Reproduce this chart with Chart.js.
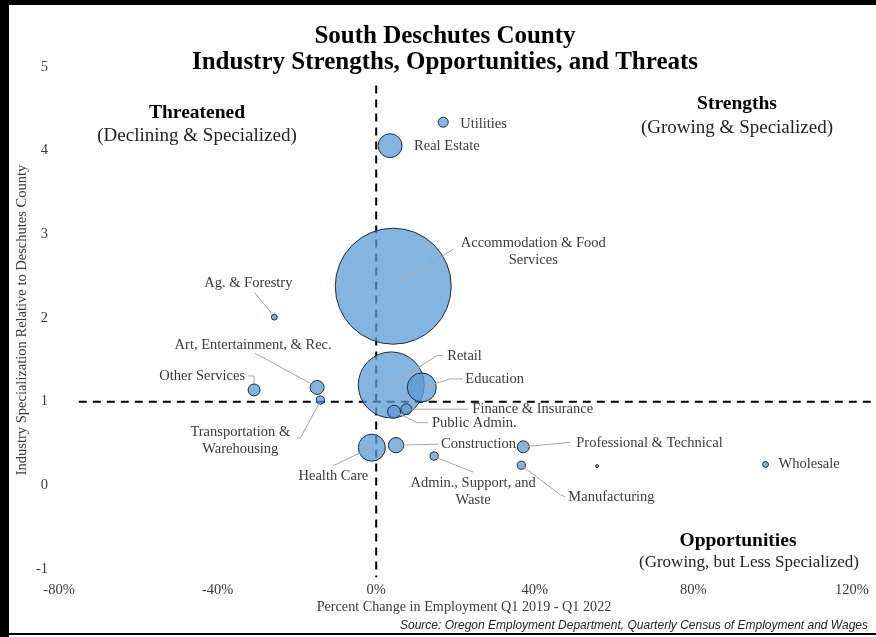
<!DOCTYPE html>
<html>
<head>
<meta charset="utf-8">
<script src="https://cdn.jsdelivr.net/npm/chart.js@4"></script>
<style>
  html, body { margin: 0; padding: 0; background: #fff; }
  canvas { display: block; }
</style>
</head>
<body>
<canvas id="myChart" width="876" height="637"></canvas>
<script>
// industries, drawn biggest first so the small ones sit on top
var industries = ['Accommodation & Food Services', 'Retail', 'Education', 'Health Care', 'Real Estate',
  'Construction', 'Art, Entertainment, & Rec.', 'Public Admin.', 'Other Services', 'Professional & Technical',
  'Finance & Insurance', 'Utilities', 'Transportation & Warehousing', 'Admin., Support, and Waste',
  'Manufacturing', 'Ag. & Forestry', 'Wholesale', ''];
// percent change in employment Q1 2019 - Q1 2022
var pctChange = [4.3, 3.8, 11.5, -1.1, 3.5, 5.0, -14.9, 4.5, -30.8, 37.1, 7.6, 16.9, -14.1, 14.6, 36.6, -25.7, 98.2, 55.7];
// specialization relative to Deschutes County
var specialization = [2.38, 1.20, 1.17, 0.45, 4.06, 0.48, 1.17, 0.88, 1.14, 0.46, 0.91, 4.34, 1.02, 0.35, 0.24, 2.01, 0.25, 0.23];
// employment (bubble size)
var employment = [1600, 518, 100, 87, 68, 28, 23, 20, 17, 17, 14, 12, 8, 8, 8, 4, 4, 1];

var xTicks = [-80, -40, 0, 40, 80, 120];
var yTicks = [-1, 0, 1, 2, 3, 4, 5];

// where each label sits relative to its bubble (pixels) and its leader line
var labelSpots = [
  { dx: 140, dy: -43, align: 'center', lines: ['Accommodation & Food', 'Services'], leader: [[2, -1], [60, -37]] },
  { dx: 56, dy: -28.5, align: 'left', leader: [[1, -1], [46, -29.5], [52, -29.5]] },
  { dx: 43.5, dy: -8.5, align: 'left', leader: [[2, 0], [28, -8.5], [41, -8.5]] },
  { dx: -38.5, dy: 29, align: 'center', leader: [[-1, 0], [-38.5, 18]] },
  { dx: 24, dy: 1, align: 'left' },
  { dx: 45, dy: -1, align: 'left', leader: [[1, 0], [42, -1]] },
  { dx: -64, dy: -42.5, align: 'center', leader: [[-1, -1], [-62, -34]] },
  { dx: 38, dy: 11, align: 'left', leader: [[1, 0], [23, 11], [34, 11]] },
  { dx: -9, dy: -14, align: 'right', leader: [[0, -6], [0, -14], [-6, -14]] },
  { dx: 53, dy: -3.5, align: 'left', leader: [[0, 0], [47, -4.5]] },
  { dx: 66, dy: 0, align: 'left', leader: [[1, 0], [62, 0]] },
  { dx: 17, dy: 2, align: 'left' },
  { dx: -80, dy: 32, align: 'center', lines: ['Transportation &', 'Warehousing'], leader: [[-1, 3], [-20, 38], [-23, 38]] },
  { dx: 39, dy: 27, align: 'center', lines: ['Admin., Support, and', 'Waste'], leader: [[1, 1], [39, 16]] },
  { dx: 47, dy: 31.5, align: 'left', leader: [[0, 0], [39, 29.5], [44, 31.5]] },
  { dx: -26, dy: -34, align: 'center', leader: [[-2, -3], [-20, -25]] },
  { dx: 13, dy: 0, align: 'left' },
  null
];

var serif = "'Liberation Serif', 'DejaVu Serif', serif";

var points = pctChange.map(function (x, i) {
  return { x: x, y: specialization[i], r: 58 * Math.sqrt(employment[i] / 1600) };
});

var extras = {
  id: 'extras',
  beforeDraw: function (chart) {
    var c = chart.ctx;
    c.save();
    c.fillStyle = '#fff';
    c.fillRect(0, 0, chart.width, chart.height);
    c.fillStyle = '#000';
    c.fillRect(0, 0, 9, chart.height);
    c.fillRect(0, 0, chart.width, 5);
    c.fillRect(9, 633, chart.width, 2);
    c.restore();
  },
  beforeDatasetsDraw: function (chart) {
    var c = chart.ctx, xs = chart.scales.x, ys = chart.scales.y;
    c.save();
    c.strokeStyle = '#000';
    c.lineWidth = 2;
    c.setLineDash([8, 6]);
    c.beginPath();
    c.moveTo(xs.getPixelForValue(0), ys.getPixelForValue(4.78));
    c.lineTo(xs.getPixelForValue(0), ys.getPixelForValue(-1.1));
    c.moveTo(xs.getPixelForValue(-75), ys.getPixelForValue(1));
    c.lineTo(xs.getPixelForValue(125), ys.getPixelForValue(1));
    c.stroke();
    c.restore();
  },
  afterDatasetsDraw: function (chart) {
    var c = chart.ctx;
    var meta = chart.getDatasetMeta(0);
    c.save();
    // leader lines and bubble labels
    c.strokeStyle = '#a6a6a6';
    c.lineWidth = 1;
    c.font = '14.5px ' + serif;
    c.fillStyle = '#3a3a3a';
    c.textBaseline = 'middle';
    labelSpots.forEach(function (s, i) {
      if (!s) return;
      var p = meta.data[i];
      if (s.leader) {
        c.beginPath();
        s.leader.forEach(function (q, k) {
          if (k === 0) c.moveTo(p.x + q[0], p.y + q[1]);
          else c.lineTo(p.x + q[0], p.y + q[1]);
        });
        c.stroke();
      }
      c.textAlign = s.align;
      var lines = s.lines || [industries[i]];
      lines.forEach(function (t, k) {
        c.fillText(t, p.x + s.dx, p.y + s.dy + k * 17);
      });
    });

    // title
    c.fillStyle = '#000';
    c.textAlign = 'center';
    c.font = 'bold 25px ' + serif;
    c.fillText('South Deschutes County', 445, 37);
    c.fillText('Industry Strengths, Opportunities, and Threats', 445, 63);

    // quadrant notes
    c.font = 'bold 19.5px ' + serif;
    c.fillText('Threatened', 197, 113);
    c.fillText('Strengths', 737, 104);
    c.fillText('Opportunities', 738, 541);
    c.font = '19px ' + serif;
    c.fillStyle = '#222';
    c.fillText('(Declining & Specialized)', 197, 136);
    c.fillText('(Growing & Specialized)', 737, 128);
    c.font = '17px ' + serif;
    c.fillText('(Growing, but Less Specialized)', 749, 563);

    // axis titles
    c.fillStyle = '#3a3a3a';
    c.font = '14.2px ' + serif;
    c.fillText('Percent Change in Employment Q1 2019 - Q1 2022', 464, 607);
    c.save();
    c.translate(22, 320);
    c.rotate(-Math.PI / 2);
    c.font = '14.5px ' + serif;
    c.fillText('Industry Specialization Relative to Deschutes County', 0, 0);
    c.restore();

    // source
    c.textAlign = 'right';
    c.font = 'italic 12px "Liberation Sans", Arial, sans-serif';
    c.fillStyle = '#222';
    c.fillText('Source: Oregon Employment Department, Quarterly Census of Employment and Wages', 868, 626);
    c.restore();
  }
};

var ctx = document.getElementById('myChart').getContext('2d');
var myChart = new Chart(ctx, {
  type: 'bubble',
  data: {
    datasets: [{
      label: 'Industries',
      data: points,
      backgroundColor: 'rgba(91, 155, 213, 0.75)',
      borderColor: '#1f2d3a',
      borderWidth: 1,
      clip: false
    }]
  },
  options: {
    responsive: false,
    animation: false,
    layout: { autoPadding: false, padding: { left: 10, top: 67, right: 24, bottom: 0 } },
    plugins: {
      legend: { display: false },
      tooltip: { enabled: false },
      title: { display: false }
    },
    scales: {
      x: {
        type: 'linear',
        min: xTicks[0],
        max: xTicks[xTicks.length - 1],
        afterBuildTicks: function (s) { s.ticks = xTicks.map(function (v) { return { value: v }; }); },
        afterFit: function (s) { s.height = 68; s.paddingLeft = 0; s.paddingRight = 0; },
        grid: { display: false, drawTicks: false },
        border: { display: false },
        ticks: {
          padding: 12,
          color: '#3a3a3a',
          font: { family: serif, size: 14.5 },
          maxRotation: 0,
          callback: function (v) { return v + '%'; }
        }
      },
      y: {
        type: 'linear',
        min: yTicks[0],
        max: yTicks[yTicks.length - 1],
        afterBuildTicks: function (s) { s.ticks = yTicks.map(function (v) { return { value: v }; }); },
        afterFit: function (s) { s.width = 49; s.paddingTop = 0; s.paddingBottom = 0; },
        grid: { display: false, drawTicks: false },
        border: { display: false },
        ticks: {
          padding: 11,
          color: '#3a3a3a',
          font: { family: serif, size: 14.5 }
        }
      }
    }
  },
  plugins: [extras]
});
</script>
</body>
</html>
